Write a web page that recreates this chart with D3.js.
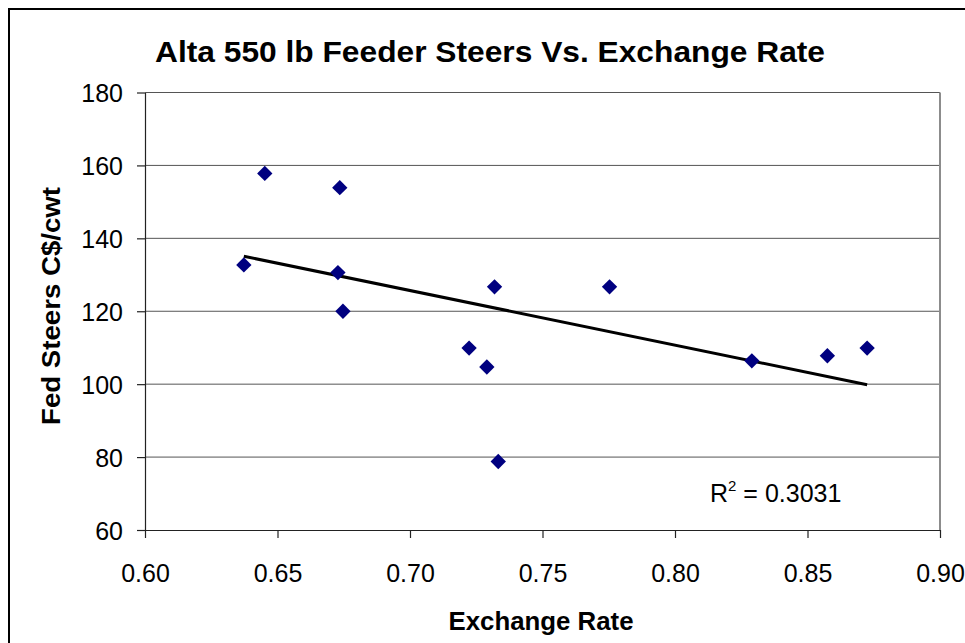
<!DOCTYPE html>
<meta charset="utf-8">
<head>
  <title>Alta 550 lb Feeder Steers Vs. Exchange Rate</title>
  <script src="https://cdn.jsdelivr.net/npm/d3@7"></script>
  <style>
    body {margin: 0; background: #fff;}
    text {font-family: Arial, "Liberation Sans", sans-serif; fill: #000;}
  </style>
</head>
<body>
<div id="chart"></div>
<script>

// exchange rate (x) and fed steers C$/cwt (y)
var exchangeRate = [0.6373, 0.6452, 0.6728, 0.6735, 0.6747, 0.7223, 0.7290, 0.7319, 0.7333, 0.7753, 0.8290, 0.8575, 0.8725];
var steerPrice   = [132.7, 157.8, 130.6, 153.9, 120.0, 109.9, 104.7, 126.7, 78.8, 126.7, 106.4, 107.8, 109.9];

var xTicks = [0.60, 0.65, 0.70, 0.75, 0.80, 0.85, 0.90];
var yTicks = [60, 80, 100, 120, 140, 160, 180];
var rSquaredLabel = "0.3031";

var width = 965, height = 643;
var plot = {left: 145, right: 940, top: 92.5, bottom: 530};

var svg = d3.select("#chart").append("svg")
    .attr("width", width)
    .attr("height", height);

// outer chart border (runs off the right and bottom edge)
svg.append("rect")
    .attr("x", 9).attr("y", 9)
    .attr("width", 980).attr("height", 660)
    .attr("fill", "#fff")
    .attr("stroke", "#000")
    .attr("stroke-width", 2);

var x = d3.scaleLinear().domain([0.60, 0.90]).range([plot.left, plot.right]);
var y = d3.scaleLinear().domain([60, 180]).range([plot.bottom, plot.top]);

// horizontal gridlines
svg.append("g")
    .selectAll("line")
    .data(yTicks.filter(function(d){ return d > 60; }))
    .enter().append("line")
    .attr("x1", plot.left).attr("x2", plot.right)
    .attr("y1", function(d){ return y(d); })
    .attr("y2", function(d){ return y(d); })
    .attr("stroke", "#555")
    .attr("stroke-width", 1);

// right border of plot area
svg.append("line")
    .attr("x1", plot.right).attr("x2", plot.right)
    .attr("y1", plot.top).attr("y2", plot.bottom)
    .attr("stroke", "#8c8c8c")
    .attr("stroke-width", 2);

// axes
var xAxis = d3.axisBottom(x).tickValues(xTicks).tickFormat(d3.format(".2f")).tickSize(8).tickSizeOuter(0).tickPadding(26);
var yAxis = d3.axisLeft(y).tickValues(yTicks).tickFormat(d3.format("d")).tickSize(8).tickSizeOuter(0).tickPadding(14);

var gx = svg.append("g")
    .attr("transform", "translate(0," + plot.bottom + ")")
    .call(xAxis);
var gy = svg.append("g")
    .attr("transform", "translate(" + plot.left + ",0)")
    .call(yAxis);

[gx, gy].forEach(function(g){
    g.select(".domain").attr("stroke", "#222").attr("stroke-width", 1.2);
    g.selectAll(".tick line").attr("stroke", "#222").attr("stroke-width", 1.2);
    g.selectAll(".tick text")
        .style("font-family", "Arial, 'Liberation Sans', sans-serif")
        .style("font-size", "25px")
        .attr("fill", "#000");
});
gy.selectAll(".tick text").attr("dy", "0.36em");

// linear trend line over the data range
var mx = d3.mean(exchangeRate), my = d3.mean(steerPrice);
var sxy = d3.sum(exchangeRate, function(d, i){ return (d - mx) * (steerPrice[i] - my); });
var sxx = d3.sum(exchangeRate, function(d){ return (d - mx) * (d - mx); });
var slope = sxy / sxx, intercept = my - slope * mx;
var xExt = d3.extent(exchangeRate);

svg.append("line")
    .attr("x1", x(xExt[0])).attr("y1", y(intercept + slope * xExt[0]))
    .attr("x2", x(xExt[1])).attr("y2", y(intercept + slope * xExt[1]))
    .attr("stroke", "#000")
    .attr("stroke-width", 3);

// diamond markers
var diamond = d3.symbol().type(d3.symbolDiamond2).size(150);
svg.append("g")
    .selectAll("path")
    .data(exchangeRate)
    .enter().append("path")
    .attr("d", diamond)
    .attr("transform", function(d, i){ return "translate(" + x(d) + "," + y(steerPrice[i]) + ")"; })
    .attr("fill", "#000080");

// title
svg.append("text")
    .attr("x", 490).attr("y", 62)
    .attr("text-anchor", "middle")
    .attr("textLength", 670)
    .attr("lengthAdjust", "spacingAndGlyphs")
    .style("font-size", "30px")
    .style("font-weight", "bold")
    .text("Alta 550 lb Feeder Steers Vs. Exchange Rate");

// axis titles
svg.append("text")
    .attr("x", 541).attr("y", 630)
    .attr("text-anchor", "middle")
    .attr("textLength", 185)
    .attr("lengthAdjust", "spacingAndGlyphs")
    .style("font-size", "25px")
    .style("font-weight", "bold")
    .text("Exchange Rate");

svg.append("text")
    .attr("transform", "translate(60," + 306 + ") rotate(-90)")
    .attr("text-anchor", "middle")
    .attr("textLength", 238)
    .attr("lengthAdjust", "spacingAndGlyphs")
    .style("font-size", "25px")
    .style("font-weight", "bold")
    .text("Fed Steers C$/cwt");

// R squared label
var r2 = svg.append("text")
    .attr("x", 710).attr("y", 502)
    .style("font-size", "25px");
r2.append("tspan").text("R");
r2.append("tspan").attr("dy", -11).style("font-size", "15px").text("2");
r2.append("tspan").attr("dy", 11).text(" = " + rSquaredLabel);

</script>
</body>
</html>
